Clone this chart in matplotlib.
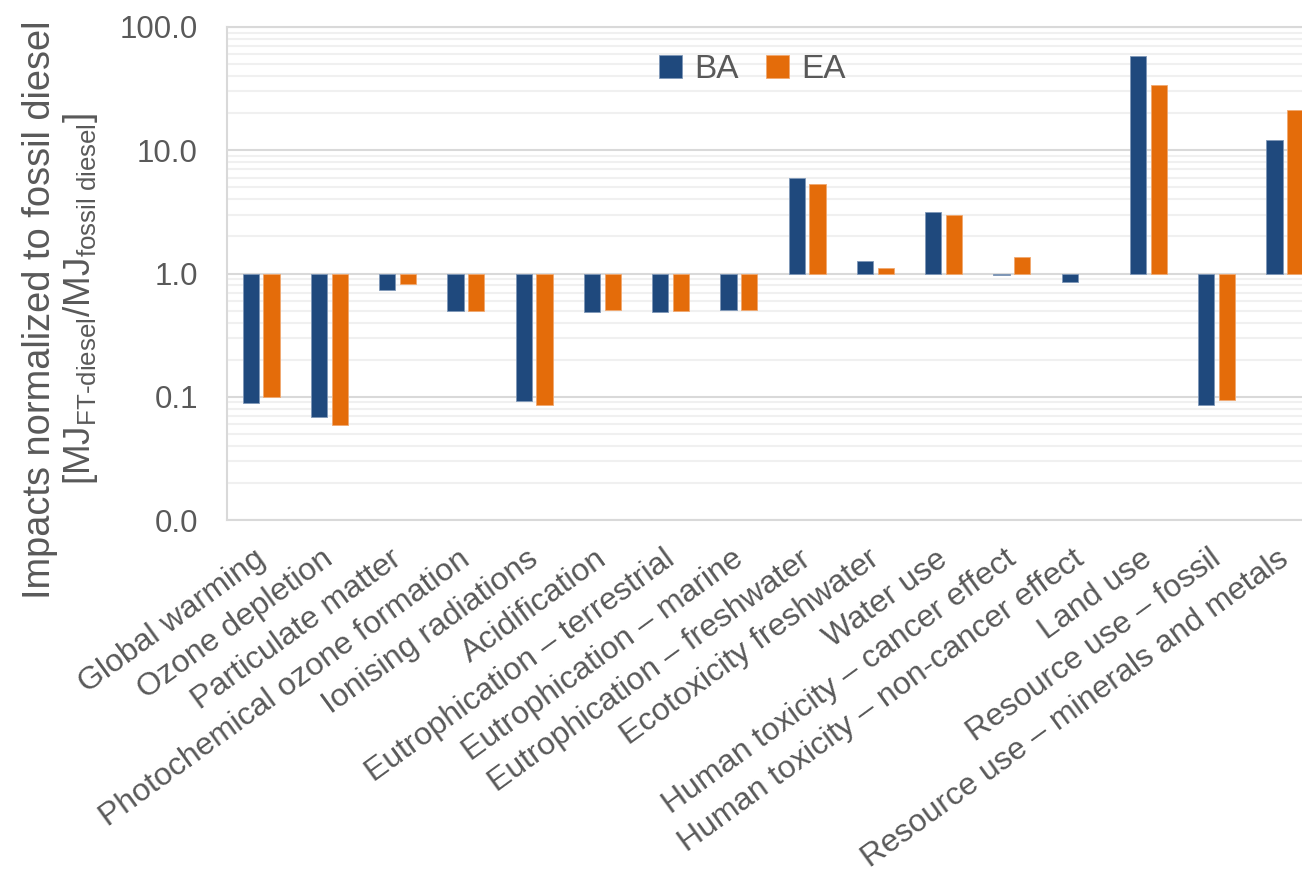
import numpy as np
import matplotlib
matplotlib.use("Agg")
import matplotlib.pyplot as plt
from matplotlib.ticker import FixedLocator, FuncFormatter, LogLocator, NullFormatter
import matplotlib.transforms as mtransforms

plt.rcParams['font.family'] = ['Liberation Sans', 'DejaVu Sans']
plt.rcParams['mathtext.fontset'] = 'custom'
plt.rcParams['mathtext.rm'] = 'Liberation Sans'
plt.rcParams['mathtext.it'] = 'Liberation Sans:italic'
plt.rcParams['mathtext.bf'] = 'Liberation Sans:bold'

categories = [
    "Global warming", "Ozone depletion", "Particulate matter",
    "Photochemical ozone formation", "Ionising radiations", "Acidification",
    "Eutrophication \u2013 terrestrial", "Eutrophication \u2013 marine",
    "Eutrophication \u2013 freshwater", "Ecotoxicity freshwater", "Water use",
    "Human toxicity \u2013 cancer effect", "Human toxicity \u2013 non-cancer effect",
    "Land use", "Resource use \u2013 fossil", "Resource use \u2013 minerals and metals",
]
ba = [0.089, 0.068, 0.74, 0.50, 0.092, 0.49, 0.49, 0.51, 6.0, 1.26, 3.16, 0.97, 0.85, 58.0, 0.086, 12.2]
ea = [0.100, 0.059, 0.82, 0.50, 0.086, 0.51, 0.50, 0.51, 5.3, 1.11, 2.97, 1.37, 1.00, 34.0, 0.094, 21.4]
series_names = ["BA", "EA"]
yticks = [0.01, 0.1, 1, 10, 100]

BA_COLOR = "#1F497D"
EA_COLOR = "#E46C0A"
TXT = "#595959"

W, H = 1302, 875
fig = plt.figure(figsize=(W / 100, H / 100), dpi=100)
left, right, top, bottom = 227, 1319, 27, 520
ax = fig.add_axes([left / W, 1 - bottom / H, (right - left) / W, (bottom - top) / H])

x = np.arange(len(categories))
bw = 0.235
off = 0.152
ba_arr = np.array(ba)
ea_arr = np.array(ea)
ba_lw = [0.6 if v != 1 else 0 for v in ba]
ea_lw = [0.6 if v != 1 else 0 for v in ea]
ax.bar(x - off, ba_arr - 1, bottom=1, width=bw, color=BA_COLOR, edgecolor="#7f98b8",
       linewidth=ba_lw, label=series_names[0], zorder=3)
ax.bar(x + off, ea_arr - 1, bottom=1, width=bw, color=EA_COLOR, edgecolor="#f0a870",
       linewidth=ea_lw, label=series_names[1], zorder=3)

ax.set_yscale("log")
ax.set_ylim(0.01, 100)
ax.set_xlim(-0.5, len(categories) - 0.5)
ax.yaxis.set_major_locator(FixedLocator(yticks))
ax.yaxis.set_major_formatter(FuncFormatter(lambda v, p: f"{v:.1f}"))
ax.yaxis.set_minor_locator(LogLocator(base=10, subs=np.arange(2, 10)))
ax.yaxis.set_minor_formatter(NullFormatter())
ax.grid(which="major", axis="y", color="#d9d9d9", linewidth=1.5, zorder=0)
ax.grid(which="minor", axis="y", color="#f0f0f0", linewidth=1.5, zorder=0)
ax.tick_params(axis="y", which="both", length=0, pad=21, labelsize=22.5, labelcolor=TXT)
ax.tick_params(axis="x", which="both", length=0)
ax.set_xticks(x)
ax.set_xticklabels([])
for s in ["left", "top", "bottom", "right"]:
    ax.spines[s].set_color("#d9d9d9")
    ax.spines[s].set_linewidth(1.5)
ax.set_axisbelow(True)

# rotated category labels
trans = mtransforms.blended_transform_factory(ax.transData, ax.transAxes)
for i, c in enumerate(categories):
    ax.text(i, 0, c, transform=trans + mtransforms.ScaledTranslation(-8 / 100, -24 / 100, fig.dpi_scale_trans),
            rotation=36, rotation_mode="anchor", ha="right", va="top",
            fontsize=23, color=TXT, clip_on=False)

# y label (two lines)
fig.text(40 / W, 1 - 310 / H, "Impacts normalized to fossil diesel", rotation=90,
         ha="center", va="center", fontsize=27.4, color=TXT)
fig.text(81 / W, 1 - 299 / H,
         r"[MJ$_{\mathregular{FT\text{-}diesel}}$/MJ$_{\mathregular{fossil\ diesel}}$]",
         rotation=90, ha="center", va="center", fontsize=26.6, color=TXT)

leg = fig.legend(loc="center left", bbox_to_anchor=(659 / W, 1 - 70 / H), ncol=2,
                 frameon=False, fontsize=24, handlelength=0.68, handleheight=0.68,
                 handletextpad=0.39, columnspacing=0.8, borderpad=0, borderaxespad=0)
for t in leg.get_texts():
    t.set_color(TXT)

fig.savefig("out.png", dpi=100)
